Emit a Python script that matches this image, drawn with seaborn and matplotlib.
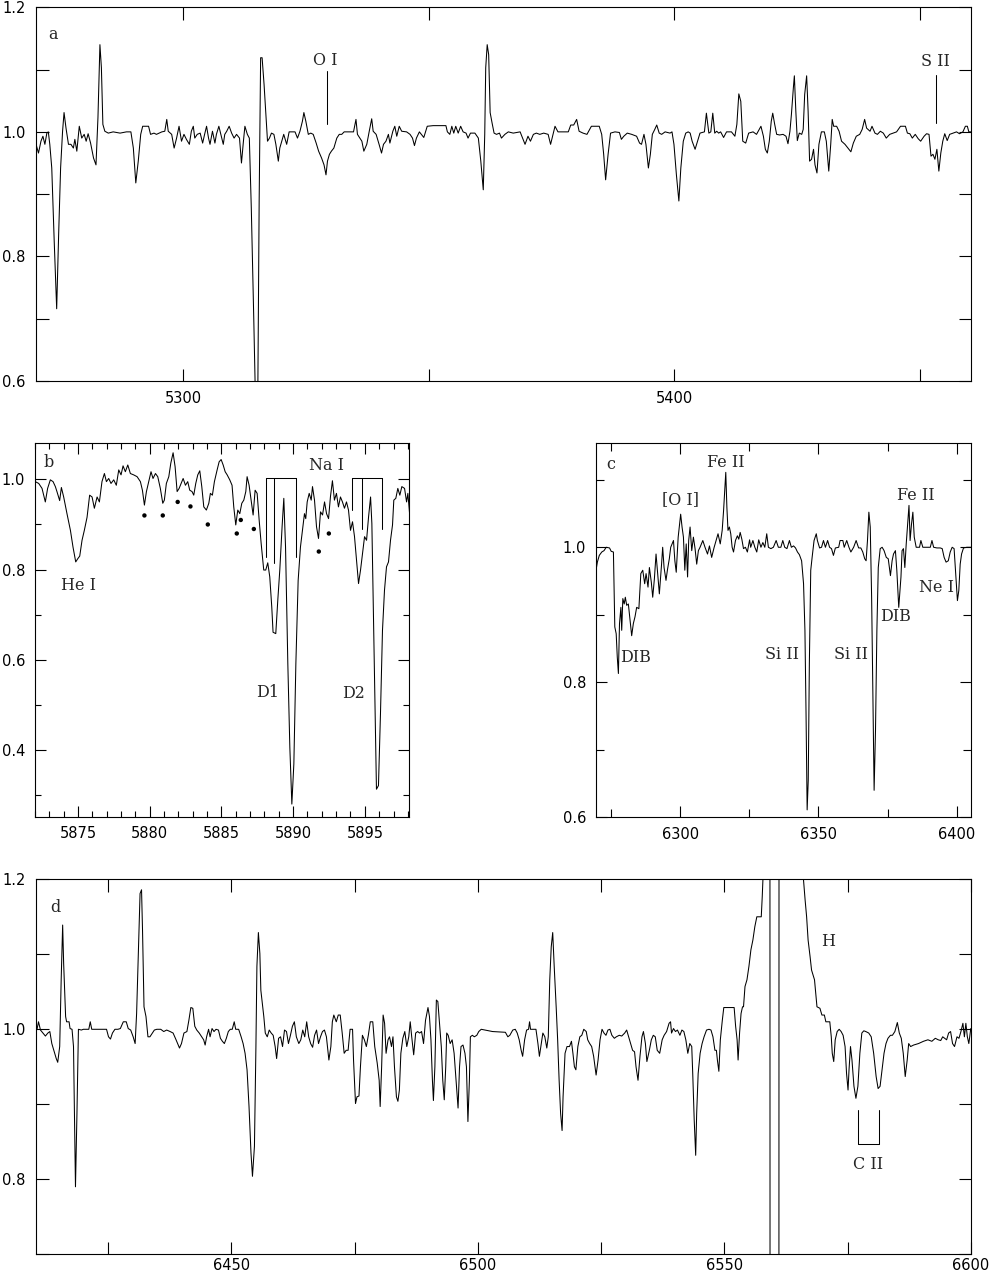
import matplotlib
matplotlib.use("Agg")
import matplotlib.pyplot as plt
from matplotlib.ticker import MultipleLocator, FormatStrFormatter
import seaborn as sns
import pandas as pd

# ---------------- data (wavelength [A], normalised flux) ----------------
spec_a = [
    (5269.6, 0.988), (5270.1, 0.980), (5270.6, 0.966), (5271.1, 0.985), (5271.5, 0.993),
    (5271.9, 0.980), (5272.3, 0.998), (5272.6, 1.000), (5272.9, 0.980), (5273.3, 0.942),
    (5273.8, 0.824), (5274.3, 0.716), (5274.7, 0.835), (5275.1, 0.942), (5275.5, 1.001),
    (5275.8, 1.031), (5276.2, 1.006), (5276.7, 0.980), (5277.2, 0.980), (5277.7, 0.974),
    (5278.0, 0.988), (5278.4, 0.969), (5278.9, 1.009), (5279.4, 0.990), (5279.9, 0.996),
    (5280.3, 0.985), (5280.7, 0.997), (5281.2, 0.982), (5281.8, 0.958), (5282.3, 0.947),
    (5282.7, 1.023), (5283.1, 1.140), (5283.4, 1.103), (5283.7, 1.012), (5284.1, 1.001),
    (5284.8, 0.998), (5285.8, 1.000), (5287.2, 0.998), (5288.5, 1.000), (5289.4, 1.000),
    (5289.9, 0.974), (5290.4, 0.918), (5290.9, 0.953), (5291.4, 0.996), (5291.8, 1.009),
    (5293.0, 1.009), (5293.4, 0.996), (5294.1, 0.998), (5294.6, 0.996), (5295.7, 1.000),
    (5296.3, 1.001), (5296.7, 1.020), (5297.0, 1.001), (5297.7, 0.996), (5298.2, 0.974),
    (5298.7, 0.990), (5299.2, 1.009), (5299.7, 0.985), (5300.2, 0.996), (5300.7, 0.988),
    (5301.3, 0.980), (5301.7, 1.001), (5302.1, 1.009), (5302.4, 0.990), (5302.9, 0.996),
    (5303.5, 0.998), (5304.0, 0.982), (5304.4, 0.996), (5304.8, 1.009), (5305.2, 0.990),
    (5305.5, 0.980), (5306.0, 1.001), (5306.5, 0.982), (5306.8, 0.996), (5307.3, 1.009),
    (5307.9, 0.990), (5308.2, 0.980), (5308.5, 0.996), (5308.9, 1.001), (5309.4, 1.009),
    (5309.9, 0.998), (5310.4, 0.990), (5310.9, 0.996), (5311.5, 0.990), (5311.9, 0.950),
    (5312.3, 0.985), (5312.6, 1.009), (5313.1, 0.996), (5313.5, 0.990), (5313.9, 0.878),
    (5314.4, 0.701), (5314.8, 0.550), (5315.2, 0.550), (5315.5, 0.889), (5315.8, 1.119),
    (5316.1, 1.119), (5316.5, 1.076), (5316.9, 1.023), (5317.2, 0.985), (5317.6, 0.990),
    (5318.0, 0.998), (5318.5, 0.996), (5318.9, 0.980), (5319.4, 0.953), (5319.7, 0.974),
    (5320.1, 0.985), (5320.5, 0.996), (5321.1, 0.980), (5321.6, 1.000), (5322.8, 1.000),
    (5323.3, 0.990), (5323.8, 1.001), (5324.3, 1.017), (5324.6, 1.031), (5325.0, 1.017),
    (5325.5, 0.996), (5326.0, 0.998), (5326.5, 0.996), (5327.1, 0.982), (5327.6, 0.969),
    (5328.2, 0.958), (5328.7, 0.947), (5329.1, 0.931), (5329.4, 0.953), (5329.8, 0.964),
    (5330.2, 0.969), (5330.7, 0.974), (5331.3, 0.990), (5331.8, 0.996), (5332.3, 0.996),
    (5332.8, 1.000), (5333.6, 1.000),
    (5334.7, 1.000), (5335.2, 1.020), (5335.5, 0.996), (5336.4, 0.985), (5336.8, 0.969),
    (5337.4, 0.980), (5337.9, 1.001), (5338.4, 1.021), (5338.7, 1.001), (5339.3, 0.996),
    (5339.9, 0.980), (5340.4, 0.966), (5340.8, 0.980), (5341.3, 0.985), (5341.8, 0.996),
    (5342.1, 0.982), (5342.7, 1.001), (5343.1, 1.009), (5343.5, 0.993), (5344.0, 1.009),
    (5344.5, 1.001), (5345.5, 1.000), (5346.2, 0.996), (5346.7, 0.990), (5347.1, 0.978),
    (5347.5, 0.990), (5348.1, 1.000), (5348.5, 0.996), (5349.0, 0.991), (5349.7, 1.009),
    (5350.9, 1.010), (5352.3, 1.010), (5353.5, 1.010), (5353.8, 1.000), (5354.3, 0.996),
    (5354.7, 1.009), (5355.1, 0.998), (5355.5, 1.009), (5356.0, 0.998), (5356.5, 1.009),
    (5357.0, 1.000), (5357.6, 0.998), (5358.0, 0.990), (5358.5, 0.998), (5359.4, 0.998),
    (5360.1, 0.990), (5360.6, 0.953), (5361.1, 0.907), (5361.4, 0.996), (5361.6, 1.103),
    (5361.9, 1.140), (5362.2, 1.124), (5362.5, 1.031), (5362.9, 1.014), (5363.3, 0.998),
    (5363.8, 0.996), (5364.4, 0.998), (5364.8, 0.990), (5365.5, 0.996), (5366.2, 1.000),
    (5367.2, 0.998), (5368.6, 1.000), (5369.1, 0.990), (5369.6, 0.980), (5370.2, 0.993),
    (5370.7, 0.985), (5371.3, 0.996), (5371.9, 0.998), (5372.6, 0.996), (5373.4, 0.998),
    (5374.3, 0.996), (5374.8, 0.980), (5375.2, 0.993), (5375.7, 1.009), (5376.3, 1.000),
    (5377.5, 1.000), (5378.4, 1.000), (5378.9, 1.011), (5379.5, 1.011), (5380.1, 1.020),
    (5380.6, 1.001), (5381.4, 0.998), (5382.2, 0.996), (5383.1, 1.009), (5384.7, 1.009),
    (5385.2, 0.996), (5385.6, 0.964), (5386.0, 0.923), (5386.5, 0.964), (5387.0, 0.998),
    (5387.9, 1.000), (5388.8, 0.999), (5389.2, 0.988), (5389.7, 0.993), (5390.4, 0.998),
    (5391.3, 0.996), (5392.3, 0.993), (5392.9, 0.982), (5393.3, 0.980), (5393.8, 0.996),
    (5394.2, 0.980), (5394.7, 0.942), (5395.1, 0.964), (5395.5, 0.996), (5396.0, 1.004),
    (5396.4, 1.011), (5396.9, 0.998),
    (5397.4, 0.996), (5398.1, 1.000), (5399.1, 0.998), (5399.5, 1.000), (5399.9, 0.980),
    (5400.4, 0.931), (5400.9, 0.889), (5401.3, 0.942), (5401.8, 0.985), (5402.3, 0.998),
    (5402.8, 1.000), (5403.2, 0.998), (5403.6, 0.985), (5404.2, 0.972), (5404.7, 0.985),
    (5405.2, 0.998), (5406.1, 1.000), (5406.5, 1.030), (5407.0, 0.998), (5407.4, 1.000),
    (5407.8, 1.030), (5408.2, 0.998), (5408.6, 1.001), (5409.0, 0.998), (5409.4, 1.000),
    (5410.0, 0.991), (5410.6, 1.000), (5411.6, 1.000), (5412.3, 0.993), (5412.7, 1.012),
    (5413.1, 1.061), (5413.5, 1.049), (5413.9, 0.985), (5414.5, 0.982), (5415.1, 0.998),
    (5416.0, 1.000), (5416.7, 0.996), (5417.6, 1.009), (5418.1, 0.993), (5418.5, 0.972),
    (5418.9, 0.966), (5419.3, 0.985), (5419.7, 1.017), (5420.0, 1.030), (5420.4, 1.012),
    (5420.8, 0.996), (5421.4, 0.995), (5422.1, 0.996), (5422.7, 0.993), (5423.1, 0.981),
    (5423.5, 1.001), (5423.8, 1.028), (5424.2, 1.071), (5424.4, 1.090), (5424.7, 1.033),
    (5425.0, 0.986), (5425.4, 0.998), (5425.9, 0.996), (5426.2, 1.004), (5426.5, 1.060),
    (5426.9, 1.090), (5427.2, 1.033), (5427.5, 0.953), (5427.9, 0.956), (5428.3, 0.972),
    (5428.6, 0.947), (5429.0, 0.934), (5429.4, 0.980), (5429.9, 1.000), (5430.5, 1.000),
    (5430.9, 0.985), (5431.4, 0.937), (5431.8, 0.980), (5432.1, 1.020), (5432.4, 1.009),
    (5433.0, 1.009), (5433.5, 1.001), (5434.0, 0.985), (5434.7, 0.980), (5435.2, 0.975),
    (5435.9, 0.968), (5436.4, 0.982), (5437.0, 0.993), (5437.7, 0.996), (5438.2, 1.004),
    (5438.7, 1.020), (5439.1, 1.006), (5439.8, 1.001), (5440.2, 1.009), (5440.8, 0.998),
    (5441.3, 0.996), (5441.9, 1.001), (5442.5, 0.998), (5443.1, 0.990), (5443.8, 0.996),
    (5444.5, 0.998), (5445.2, 1.000), (5446.0, 1.009), (5447.0, 1.009), (5447.4, 0.998),
    (5447.9, 0.997), (5448.4, 0.990), (5449.0, 0.996), (5449.6, 0.989), (5450.1, 0.985),
    (5450.8, 0.993), (5451.3, 0.997), (5451.8, 0.996), (5452.2, 0.961), (5452.6, 0.964),
    (5453.0, 0.956), (5453.4, 0.972), (5453.8, 0.937), (5454.2, 0.966), (5454.6, 0.985),
    (5455.0, 0.997), (5455.5, 0.986), (5456.0, 0.996), (5456.7, 0.998), (5457.4, 1.000),
    (5458.0, 0.997), (5458.7, 1.000), (5459.2, 1.009), (5459.6, 1.009), (5459.9, 1.000),
    (5460.3, 1.000),
]

spec_b = [
    (5872.02, 0.995), (5872.26, 0.991), (5872.49, 0.980), (5872.72, 0.950), (5872.88, 0.980),
    (5873.07, 0.999), (5873.26, 0.995), (5873.42, 0.984), (5873.53, 0.973), (5873.72, 0.953),
    (5873.84, 0.982), (5874.00, 0.961), (5874.23, 0.924), (5874.47, 0.887), (5874.65, 0.850),
    (5874.84, 0.817), (5874.98, 0.824), (5875.12, 0.830), (5875.28, 0.865), (5875.44, 0.887),
    (5875.63, 0.916), (5875.81, 0.965), (5875.98, 0.961), (5876.14, 0.936), (5876.33, 0.961),
    (5876.49, 0.950), (5876.67, 0.995), (5876.84, 1.013), (5876.98, 0.995), (5877.14, 1.002),
    (5877.30, 0.991), (5877.49, 0.999), (5877.67, 0.987), (5877.84, 1.021), (5878.00, 1.010),
    (5878.14, 1.030), (5878.30, 1.017), (5878.47, 1.032), (5878.65, 1.013), (5878.88, 1.010),
    (5879.12, 1.006), (5879.35, 0.995), (5879.49, 0.976), (5879.63, 0.943), (5879.77, 0.973),
    (5879.93, 0.995), (5880.09, 1.017), (5880.23, 1.002), (5880.40, 1.013), (5880.56, 1.006),
    (5880.74, 0.980), (5880.91, 0.947), (5881.02, 0.954), (5881.16, 0.991), (5881.33, 1.006),
    (5881.47, 1.036), (5881.63, 1.059), (5881.77, 1.028), (5881.91, 0.973), (5882.05, 0.980),
    (5882.19, 0.991), (5882.33, 1.002), (5882.49, 0.987), (5882.65, 0.995), (5882.79, 0.976),
    (5882.95, 0.973), (5883.07, 0.965), (5883.21, 0.991), (5883.35, 1.010), (5883.49, 1.019),
    (5883.63, 0.984), (5883.77, 0.939), (5883.95, 0.932), (5884.12, 0.947), (5884.23, 0.969),
    (5884.37, 0.965), (5884.51, 0.995), (5884.70, 1.021), (5884.84, 1.039), (5884.98, 1.044),
    (5885.12, 1.032), (5885.26, 1.017), (5885.40, 1.010), (5885.58, 0.999), (5885.74, 0.987),
    (5885.86, 0.939), (5886.00, 0.899), (5886.14, 0.932), (5886.28, 0.924), (5886.42, 0.947),
    (5886.56, 0.954), (5886.70, 0.973), (5886.79, 1.006), (5886.93, 0.987), (5887.07, 0.954),
    (5887.21, 0.921), (5887.35, 0.976), (5887.49, 0.969), (5887.63, 0.910), (5887.77, 0.858),
    (5887.95, 0.799), (5888.09, 0.799), (5888.23, 0.815), (5888.37, 0.784), (5888.51, 0.717),
    (5888.60, 0.661), (5888.79, 0.658), (5888.93, 0.732), (5889.07, 0.799), (5889.23, 0.895),
    (5889.35, 0.958), (5889.47, 0.850), (5889.63, 0.591), (5889.77, 0.406), (5889.91, 0.280),
    (5890.05, 0.369), (5890.19, 0.591), (5890.35, 0.776), (5890.51, 0.850), (5890.65, 0.887),
    (5890.79, 0.924), (5890.88, 0.913), (5890.98, 0.950), (5891.12, 0.969), (5891.26, 0.954),
    (5891.35, 0.984), (5891.49, 0.954), (5891.63, 0.895), (5891.77, 0.869), (5891.91, 0.928),
    (5892.05, 0.921), (5892.19, 0.950), (5892.33, 0.924), (5892.47, 0.913), (5892.60, 0.961),
    (5892.74, 0.997), (5892.88, 0.954), (5893.02, 0.969), (5893.16, 0.939), (5893.30, 0.961),
    (5893.44, 0.950), (5893.58, 0.936), (5893.72, 0.950), (5893.86, 0.932), (5894.00, 0.887),
    (5894.14, 0.906), (5894.28, 0.873), (5894.42, 0.821), (5894.56, 0.769), (5894.70, 0.799),
    (5894.84, 0.836), (5894.98, 0.873), (5895.12, 0.865), (5895.26, 0.917), (5895.40, 0.961),
    (5895.49, 0.902), (5895.58, 0.739), (5895.72, 0.480), (5895.81, 0.313), (5895.95, 0.321),
    (5896.09, 0.480), (5896.23, 0.665), (5896.37, 0.754), (5896.51, 0.806), (5896.65, 0.817),
    (5896.79, 0.865), (5896.93, 0.899), (5897.02, 0.954), (5897.16, 0.958), (5897.30, 0.980),
    (5897.44, 0.965), (5897.58, 0.984), (5897.77, 0.980), (5897.91, 0.950), (5898.00, 0.969),
    (5898.14, 0.917),
]

# interstellar components marked with dots in panel b
dots_b_wave = [5879.63, 5880.91, 5881.95, 5882.84, 5884.05, 5886.07, 5886.35, 5887.26, 5891.79, 5892.49]
dots_b_flux = [0.920, 0.920, 0.950, 0.940, 0.900, 0.880, 0.910, 0.890, 0.840, 0.880]

# Na I component markers (wavelengths, bottom of each tick), top level of bracket
nai_d1_wave = [5888.09, 5888.65, 5890.19]
nai_d1_low = [0.827, 0.815, 0.828]
nai_d2_wave = [5894.09, 5894.79, 5896.19]
nai_d2_low = [0.932, 0.889, 0.889]
nai_top = 1.004

spec_c = [
    (6269.5, 0.963), (6270.1, 0.978), (6270.8, 0.988), (6271.7, 0.993), (6272.5, 0.995),
    (6273.3, 1.000), (6274.5, 0.999), (6275.1, 0.994), (6275.9, 0.993), (6276.4, 0.882),
    (6276.9, 0.872), (6277.3, 0.837), (6277.7, 0.813), (6278.1, 0.887), (6278.6, 0.911),
    (6278.9, 0.877), (6279.3, 0.924), (6279.8, 0.916), (6280.2, 0.926), (6280.7, 0.914),
    (6281.3, 0.916), (6281.9, 0.892), (6282.5, 0.869), (6283.1, 0.887), (6283.7, 0.897),
    (6284.3, 0.911), (6285.1, 0.909), (6285.8, 0.961), (6286.5, 0.966), (6287.2, 0.946),
    (6287.7, 0.961), (6288.4, 0.941), (6288.9, 0.970), (6289.6, 0.948), (6290.1, 0.926),
    (6290.7, 0.953), (6291.3, 0.990), (6291.9, 0.961), (6292.5, 0.931), (6293.3, 0.975),
    (6293.7, 1.000), (6294.2, 0.970), (6294.9, 0.951), (6295.4, 0.966), (6296.1, 0.983),
    (6296.6, 1.000), (6297.1, 1.005), (6297.6, 1.010), (6298.1, 0.980), (6298.6, 0.963),
    (6299.3, 1.015), (6299.8, 1.034), (6300.2, 1.049), (6300.7, 1.030), (6301.2, 1.015),
    (6301.7, 0.966), (6302.2, 1.005), (6302.7, 0.956), (6303.1, 1.010), (6303.6, 1.030),
    (6304.2, 0.995), (6304.8, 1.015), (6305.4, 0.998), (6306.0, 0.975), (6306.6, 0.995),
    (6307.2, 1.000), (6308.2, 1.010), (6309.0, 1.000), (6309.9, 0.990), (6310.6, 1.002),
    (6311.4, 0.985), (6312.3, 1.000), (6313.0, 1.010), (6313.7, 1.020), (6314.5, 1.005),
    (6315.2, 1.025), (6315.7, 1.054), (6316.1, 1.084), (6316.5, 1.111), (6316.9, 1.059),
    (6317.3, 1.025), (6317.8, 1.030), (6318.3, 1.020), (6318.8, 1.000), (6319.3, 0.993),
    (6320.0, 1.010), (6320.7, 1.017), (6321.2, 1.012), (6321.7, 1.022), (6322.3, 1.012),
    (6322.9, 0.998), (6323.6, 1.000), (6324.3, 0.993), (6325.1, 1.011), (6325.5, 1.000),
    (6326.3, 1.010), (6327.0, 1.000), (6327.7, 0.993), (6328.4, 1.011), (6329.2, 1.000),
    (6329.9, 1.007), (6330.6, 1.000), (6331.3, 1.020), (6331.9, 1.000), (6332.8, 0.998),
    (6333.7, 1.000), (6334.7, 1.010), (6335.5, 1.000), (6336.4, 1.000), (6337.1, 1.010),
    (6337.8, 1.000), (6338.6, 0.998), (6339.5, 1.010), (6340.2, 1.000), (6341.0, 1.002),
    (6341.7, 0.999), (6342.4, 0.993), (6343.1, 0.989), (6343.9, 0.980), (6344.6, 0.946),
    (6345.1, 0.877), (6345.5, 0.754), (6345.9, 0.611), (6346.3, 0.655), (6346.7, 0.828),
    (6347.2, 0.966), (6347.7, 0.985), (6348.4, 1.010), (6349.2, 1.020), (6349.6, 1.010),
    (6350.4, 0.999), (6351.1, 1.000), (6351.8, 1.010), (6352.5, 1.000), (6353.3, 1.010),
    (6354.0, 1.000), (6354.7, 0.998), (6355.4, 0.988), (6356.1, 0.999), (6357.3, 1.000),
    (6357.8, 1.010), (6358.8, 1.010), (6359.3, 1.000), (6360.2, 1.010), (6361.0, 1.000),
    (6361.7, 0.993), (6362.7, 1.000), (6363.6, 1.010), (6364.5, 0.999), (6365.3, 0.999),
    (6366.0, 0.993), (6366.7, 0.983), (6367.2, 0.980), (6367.7, 1.010), (6368.2, 1.052),
    (6368.7, 1.030), (6369.2, 0.926), (6369.6, 0.803), (6370.1, 0.640), (6370.6, 0.729),
    (6371.1, 0.877), (6371.6, 0.970), (6372.3, 0.998), (6373.0, 1.000), (6373.7, 0.995),
    (6374.5, 0.985), (6375.2, 0.983), (6376.0, 0.958), (6376.6, 0.980), (6377.1, 0.990),
    (6377.8, 0.995), (6378.3, 0.966), (6379.0, 0.911), (6379.8, 0.956), (6380.2, 0.995),
    (6380.7, 0.998), (6381.2, 0.970), (6381.7, 1.005), (6382.2, 1.034), (6382.7, 1.062),
    (6383.1, 1.010), (6383.6, 1.034), (6384.1, 1.052), (6384.6, 1.015), (6385.3, 1.000),
    (6386.5, 1.000), (6387.0, 1.010), (6387.7, 1.000), (6389.2, 1.000), (6390.4, 1.000),
    (6391.0, 1.010), (6391.6, 1.000), (6392.8, 0.999), (6394.0, 0.999), (6394.7, 0.998),
    (6395.4, 0.985), (6396.1, 0.978), (6396.9, 0.980), (6397.6, 0.993), (6398.3, 1.000),
    (6399.0, 0.998), (6399.5, 0.966), (6400.2, 0.921), (6400.7, 0.936), (6401.2, 0.975),
    (6401.7, 0.990), (6402.4, 0.999), (6403.6, 1.000), (6405.1, 1.000),
]

spec_d = [
    (6410.1, 1.000), (6410.6, 1.000), (6410.9, 1.010), (6411.3, 0.999), (6411.8, 0.995),
    (6412.3, 0.991), (6412.8, 0.995), (6413.2, 0.997), (6413.6, 0.981), (6414.1, 0.970),
    (6414.5, 0.961), (6414.8, 0.956), (6415.2, 0.977), (6415.5, 1.066), (6415.8, 1.139),
    (6416.0, 1.088), (6416.4, 1.017), (6416.6, 1.010), (6417.1, 1.010), (6417.3, 1.001),
    (6417.7, 1.000), (6418.0, 0.977), (6418.2, 0.888), (6418.4, 0.790), (6418.7, 0.888),
    (6419.0, 1.000), (6419.6, 0.999), (6420.0, 1.000), (6421.1, 1.000), (6421.4, 1.010),
    (6421.7, 1.000), (6422.6, 1.000), (6423.6, 1.000), (6424.7, 1.000), (6425.1, 0.990),
    (6425.5, 0.987), (6425.9, 0.995), (6426.4, 1.000), (6427.0, 1.000), (6427.5, 1.001),
    (6428.1, 1.010), (6428.7, 1.010), (6429.1, 1.001), (6429.6, 0.999), (6430.1, 0.990),
    (6430.5, 0.981), (6430.8, 1.021), (6431.2, 1.110), (6431.5, 1.181), (6431.8, 1.186),
    (6432.0, 1.132), (6432.3, 1.030), (6432.7, 1.017), (6433.1, 0.990), (6433.5, 0.990),
    (6434.0, 0.995), (6434.4, 0.999), (6434.9, 1.000), (6435.7, 1.000), (6436.3, 0.997),
    (6436.9, 0.999), (6437.6, 0.997), (6438.2, 0.995), (6438.8, 0.986), (6439.5, 0.975),
    (6439.9, 0.981), (6440.4, 0.995), (6441.0, 0.997), (6441.4, 1.012), (6441.8, 1.029),
    (6442.2, 1.028), (6442.6, 1.004), (6443.0, 0.999), (6443.5, 0.995), (6444.0, 0.990),
    (6444.4, 0.986), (6444.7, 0.979), (6445.0, 0.990), (6445.4, 1.000), (6445.7, 0.990),
    (6446.1, 1.001), (6446.5, 0.997), (6446.9, 1.000), (6447.4, 0.999), (6447.8, 0.988),
    (6448.2, 0.984), (6448.6, 0.981), (6449.0, 0.988), (6449.4, 0.997), (6449.8, 1.000),
    (6450.2, 1.000), (6450.6, 1.010), (6450.9, 1.000), (6451.5, 1.000), (6452.0, 0.990),
    (6452.4, 0.981), (6452.8, 0.968), (6453.2, 0.946), (6453.6, 0.897), (6454.0, 0.835),
    (6454.3, 0.804), (6454.7, 0.844), (6455.0, 0.977), (6455.2, 1.084), (6455.5, 1.129),
    (6455.8, 1.101), (6456.0, 1.052), (6456.3, 1.035), (6456.6, 1.017), (6456.9, 0.995),
    (6457.3, 0.990), (6457.7, 0.999), (6458.1, 0.995), (6458.5, 0.992), (6458.9, 0.977),
    (6459.2, 0.961), (6459.6, 0.988), (6460.0, 0.990), (6460.4, 0.977), (6460.8, 0.999),
    (6461.2, 0.997), (6461.6, 0.981), (6462.0, 0.992), (6462.4, 1.004), (6462.8, 1.010),
    (6463.2, 0.990), (6463.7, 0.981), (6464.1, 0.986), (6464.5, 0.999), (6464.9, 0.990),
    (6465.3, 1.010), (6465.7, 0.990), (6466.1, 0.981), (6466.5, 0.976), (6466.9, 0.992),
    (6467.3, 0.999), (6467.7, 0.981), (6468.1, 0.990), (6468.5, 0.997), (6468.9, 0.999),
    (6469.3, 0.990), (6469.8, 0.959), (6470.2, 0.977), (6470.5, 1.010), (6470.8, 1.019),
    (6471.3, 1.010), (6471.7, 1.019), (6472.1, 1.019), (6472.5, 0.995), (6472.9, 0.968),
    (6473.3, 0.972), (6473.7, 0.972), (6474.1, 1.000), (6474.6, 1.000), (6474.8, 0.959),
    (6475.2, 0.901), (6475.5, 0.910), (6475.9, 0.911), (6476.2, 0.950), (6476.6, 0.992),
    (6477.0, 0.986), (6477.4, 0.977), (6477.8, 0.992), (6478.2, 1.010), (6478.7, 1.010),
    (6479.1, 0.977), (6479.6, 0.955), (6480.0, 0.932), (6480.2, 0.897), (6480.5, 0.950),
    (6480.8, 1.019), (6481.1, 1.008), (6481.4, 0.968), (6481.8, 0.986), (6482.1, 0.990),
    (6482.5, 0.977), (6482.8, 0.990), (6483.1, 0.950), (6483.5, 0.910), (6483.8, 0.904),
    (6484.1, 0.919), (6484.4, 0.968), (6484.8, 0.988), (6485.2, 0.997), (6485.6, 0.977),
    (6486.0, 0.990), (6486.3, 1.010), (6486.6, 0.990), (6487.0, 0.966), (6487.4, 0.995),
    (6487.8, 0.997), (6488.2, 0.995), (6488.6, 0.997), (6489.0, 0.981), (6489.4, 1.012),
    (6489.9, 1.029), (6490.2, 1.017), (6490.5, 0.986), (6490.8, 0.932), (6491.0, 0.905),
    (6491.3, 0.950), (6491.6, 1.039), (6491.9, 1.037), (6492.2, 1.012), (6492.6, 0.977),
    (6492.9, 0.932), (6493.2, 0.906), (6493.5, 0.950), (6493.7, 0.995), (6494.0, 0.992),
    (6494.4, 0.981), (6494.8, 0.986), (6495.2, 0.968), (6495.6, 0.932), (6496.0, 0.895),
    (6496.3, 0.950), (6496.6, 0.977), (6497.0, 0.979), (6497.4, 0.968), (6497.7, 0.950),
    (6498.0, 0.877), (6498.3, 0.932), (6498.5, 0.990), (6498.9, 0.992), (6499.3, 0.990),
    (6499.8, 0.992), (6500.2, 0.997), (6500.7, 1.000), (6503.0, 0.997), (6505.6, 0.996),
    (6506.1, 0.990), (6506.5, 0.992), (6507.1, 0.999), (6507.6, 1.000), (6508.0, 0.995),
    (6508.4, 0.986), (6508.8, 0.972), (6509.1, 0.964), (6509.5, 0.986), (6509.9, 0.999),
    (6510.3, 1.000), (6510.5, 1.010), (6510.7, 1.000), (6511.1, 1.000), (6511.8, 1.000),
    (6512.2, 0.981), (6512.5, 0.964), (6512.8, 0.977), (6513.2, 0.995), (6513.6, 0.990),
    (6514.0, 0.975), (6514.3, 0.990), (6514.6, 1.066), (6514.9, 1.110), (6515.2, 1.129),
    (6515.5, 1.084), (6515.9, 1.030), (6516.2, 0.986), (6516.5, 0.932), (6516.8, 0.888),
    (6517.1, 0.865), (6517.3, 0.910), (6517.7, 0.968), (6518.1, 0.977), (6518.6, 0.977),
    (6519.0, 0.984), (6519.3, 0.968), (6519.6, 0.950), (6519.9, 0.946), (6520.3, 0.977),
    (6520.7, 0.990), (6521.1, 0.992), (6521.5, 1.000), (6522.0, 0.997), (6522.3, 0.986),
    (6522.7, 0.981), (6523.1, 0.977), (6523.5, 0.964), (6524.0, 0.939), (6524.4, 0.959),
    (6524.8, 0.986), (6525.2, 1.000), (6525.6, 0.995), (6526.0, 0.992), (6526.4, 0.999),
    (6526.8, 1.000), (6527.2, 0.992), (6527.7, 0.988), (6528.1, 0.990), (6528.7, 0.992),
    (6529.2, 0.991), (6529.8, 0.995), (6530.2, 0.999), (6530.6, 0.990), (6531.0, 0.981),
    (6531.4, 0.972), (6531.8, 0.970), (6532.1, 0.950), (6532.5, 0.932), (6532.9, 0.964),
    (6533.3, 0.990), (6533.6, 0.997), (6534.0, 0.981), (6534.3, 0.957), (6534.8, 0.972),
    (6535.2, 0.986), (6535.6, 0.992), (6536.0, 0.990), (6536.4, 0.972), (6536.9, 0.968),
    (6537.4, 0.986), (6537.8, 0.992), (6538.3, 0.997), (6538.8, 1.008), (6539.1, 1.010),
    (6539.3, 0.995), (6539.7, 1.001), (6540.1, 0.997), (6540.5, 0.999), (6541.0, 0.992),
    (6541.4, 0.999), (6541.8, 0.997), (6542.2, 0.986), (6542.6, 0.968), (6543.0, 0.981),
    (6543.4, 0.977), (6543.6, 0.941), (6543.9, 0.879), (6544.2, 0.832), (6544.4, 0.888),
    (6544.7, 0.941), (6545.1, 0.968), (6545.5, 0.981), (6545.9, 0.990), (6546.4, 0.999),
    (6546.9, 1.000), (6547.3, 0.999), (6547.7, 0.990), (6548.1, 0.972), (6548.4, 0.972),
    (6548.6, 0.959), (6548.9, 0.944), (6549.2, 0.986), (6549.6, 1.012), (6549.9, 1.029),
    (6550.5, 1.029), (6551.5, 1.029), (6552.0, 1.029), (6552.3, 1.004), (6552.6, 0.986),
    (6552.8, 0.959), (6553.1, 0.995), (6553.4, 1.021), (6553.7, 1.030), (6553.9, 1.030),
    (6554.2, 1.057), (6554.6, 1.066), (6555.0, 1.084), (6555.4, 1.106), (6555.8, 1.119),
    (6556.2, 1.137), (6556.6, 1.150), (6557.5, 1.150), (6557.7, 1.177), (6557.9, 1.210),
    (6558.3, 1.600), (6559.25, 1.600), (6559.28, 0.600), (6561.08, 0.600), (6561.11, 1.600),
    (6565.9, 1.600), (6566.06, 1.200),
    (6566.4, 1.172), (6566.7, 1.150), (6567.0, 1.119), (6567.4, 1.097), (6567.7, 1.079),
    (6568.3, 1.066), (6568.8, 1.030), (6569.4, 1.028), (6569.8, 1.019), (6570.3, 1.019),
    (6570.6, 1.010), (6571.4, 1.010), (6571.7, 0.990), (6571.9, 0.968), (6572.2, 0.957),
    (6572.5, 0.986), (6572.9, 0.997), (6573.3, 1.000), (6573.7, 0.997), (6574.1, 0.992),
    (6574.5, 0.977), (6574.8, 0.941), (6575.1, 0.919), (6575.3, 0.946), (6575.6, 0.977),
    (6575.9, 0.959), (6576.3, 0.924), (6576.7, 0.908), (6577.1, 0.924), (6577.5, 0.968),
    (6577.9, 0.995), (6578.3, 0.998), (6578.7, 0.997), (6579.3, 0.995), (6579.8, 0.990),
    (6580.3, 0.968), (6580.8, 0.937), (6581.2, 0.921), (6581.6, 0.924), (6582.0, 0.946),
    (6582.4, 0.968), (6582.8, 0.981), (6583.2, 0.988), (6583.7, 0.992), (6584.1, 0.992),
    (6584.6, 0.997), (6585.1, 1.009), (6585.5, 0.995), (6585.9, 0.988), (6586.3, 0.968),
    (6586.7, 0.937), (6587.1, 0.959), (6587.4, 0.981), (6587.8, 0.977), (6588.4, 0.979),
    (6589.4, 0.981), (6590.4, 0.984), (6591.3, 0.986), (6592.1, 0.984), (6592.8, 0.988),
    (6593.4, 0.986), (6593.9, 0.985), (6594.3, 0.990), (6594.7, 0.988), (6595.1, 0.986),
    (6595.5, 0.995), (6595.9, 0.997), (6596.3, 0.981), (6596.7, 0.977), (6597.2, 0.990),
    (6597.6, 0.988), (6598.0, 0.997), (6598.4, 1.008), (6598.7, 0.990), (6599.0, 1.008),
    (6599.3, 0.990), (6599.6, 0.981), (6600.0, 1.001),
]

# C II bracket in panel d
cii_wave = [6577.2, 6581.3]
cii_top, cii_bottom = 0.892, 0.847

# line identification labels: (text, wavelength, flux)
labels_a = [("O I", 5329.0, 1.115), ("S II", 5453.2, 1.113)]
marks_a = [(5329.4, 1.012, 1.098), (5453.2, 1.014, 1.091)]
labels_b = [("Na I", 5892.3, 1.030), ("He I", 5875.05, 0.765), ("D1", 5888.2, 0.528), ("D2", 5894.2, 0.526)]
labels_c = [("Fe II", 6316.5, 1.126), ("[O I]", 6300.2, 1.071), ("Fe II", 6385.2, 1.076),
            ("DIB", 6284.0, 0.837), ("Si II", 6336.7, 0.841), ("Si II", 6361.7, 0.841),
            ("DIB", 6377.7, 0.897), ("Ne I", 6392.5, 0.941)]
labels_d = [("H", 6571.1, 1.117), ("C II", 6579.1, 0.820)]

# ---------------- style ----------------
sns.set_style("ticks")
plt.rcParams.update({
    "font.family": ["DejaVu Sans"],
    "axes.linewidth": 0.8,
    "axes.edgecolor": "black",
    "xtick.direction": "in",
    "ytick.direction": "in",
    "xtick.top": True,
    "ytick.right": True,
    "xtick.color": "black",
    "ytick.color": "black",
    "xtick.labelsize": 10.5,
    "ytick.labelsize": 10.5,
})
SERIF = ["DejaVu Serif"]
TXT = 11.5

fig = plt.figure(figsize=(9.9, 12.76), dpi=100)
ax_a = fig.add_axes([0.0359, 0.70141, 0.9447, 0.29287])
ax_b = fig.add_axes([0.03535, 0.35995, 0.37808, 0.29263])
ax_c = fig.add_axes([0.60172, 0.35948, 0.37879, 0.29310])
ax_d = fig.add_axes([0.0359, 0.01701, 0.9447, 0.29389])


def draw(ax, spec):
    df = pd.DataFrame(spec, columns=["wave", "flux"])
    sns.lineplot(data=df, x="wave", y="flux", ax=ax, sort=False, estimator=None,
                 color="black", linewidth=0.75)
    ax.set_xlabel("")
    ax.set_ylabel("")


def style(ax, xlim, ylim, xmaj, xmin, ymaj, ymin, lmaj, lmin, xpad=7):
    ax.set_xlim(*xlim)
    ax.set_ylim(*ylim)
    ax.xaxis.set_major_locator(MultipleLocator(xmaj))
    ax.xaxis.set_minor_locator(MultipleLocator(xmin))
    ax.yaxis.set_major_locator(MultipleLocator(ymaj))
    ax.yaxis.set_minor_locator(MultipleLocator(ymin))
    ax.xaxis.set_major_formatter(FormatStrFormatter("%d"))
    ax.yaxis.set_major_formatter(FormatStrFormatter("%.1f"))
    ax.tick_params(which="both", direction="in", top=True, right=True, width=0.8)
    ax.tick_params(which="major", length=lmaj)
    ax.tick_params(axis="y", which="major", pad=7)
    ax.tick_params(axis="x", which="major", pad=xpad)
    ax.tick_params(which="minor", length=lmin)
    for s in ax.spines.values():
        s.set_visible(True)
        s.set_linewidth(0.8)


# panel a
draw(ax_a, spec_a)
style(ax_a, (5270, 5460.3), (0.6, 1.2), 100, 50, 0.2, 0.1, 9, 9)
for lam, lo, hi in marks_a:
    ax_a.plot([lam, lam], [lo, hi], color="black", lw=0.75)
for t, x, y in labels_a:
    ax_a.text(x, y, t, ha="center", va="center", fontsize=TXT, family=SERIF)
ax_a.text(0.019, 0.926, "a", transform=ax_a.transAxes, ha="center", va="center", fontsize=TXT, family=SERIF)

# panel b
draw(ax_b, spec_b)
sns.scatterplot(x=dots_b_wave, y=dots_b_flux, ax=ax_b, color="black", s=10, edgecolor="none")
for waves, lows in ((nai_d1_wave, nai_d1_low), (nai_d2_wave, nai_d2_low)):
    ax_b.plot([waves[0], waves[-1]], [nai_top, nai_top], color="black", lw=0.75)
    for w, lo in zip(waves, lows):
        ax_b.plot([w, w], [lo, nai_top], color="black", lw=0.75)
for t, x, y in labels_b:
    ax_b.text(x, y, t, ha="center", va="center", fontsize=TXT, family=SERIF)
ax_b.text(0.037, 0.949, "b", transform=ax_b.transAxes, ha="center", va="center", fontsize=TXT, family=SERIF)
style(ax_b, (5872, 5898.1), (0.252, 1.08), 5, 1, 0.2, 0.1, 8, 4.5)

# panel c
draw(ax_c, spec_c)
for t, x, y in labels_c:
    ax_c.text(x, y, t, ha="center", va="center", fontsize=TXT, family=SERIF)
ax_c.text(0.040, 0.942, "c", transform=ax_c.transAxes, ha="center", va="center", fontsize=TXT, family=SERIF)
style(ax_c, (6269.5, 6405), (0.6, 1.154), 50, 25, 0.2, 0.1, 8, 6)

# panel d
draw(ax_d, spec_d)
ax_d.plot([cii_wave[0], cii_wave[0], cii_wave[1], cii_wave[1]],
          [cii_top, cii_bottom, cii_bottom, cii_top], color="black", lw=0.75)
for t, x, y in labels_d:
    ax_d.text(x, y, t, ha="center", va="center", fontsize=TXT, family=SERIF)
ax_d.text(0.021, 0.925, "d", transform=ax_d.transAxes, ha="center", va="center", fontsize=TXT, family=SERIF)
style(ax_d, (6410.3, 6600), (0.7, 1.2), 50, 25, 0.2, 0.1, 9, 9, xpad=3)

fig.savefig("out.png", dpi=100)
